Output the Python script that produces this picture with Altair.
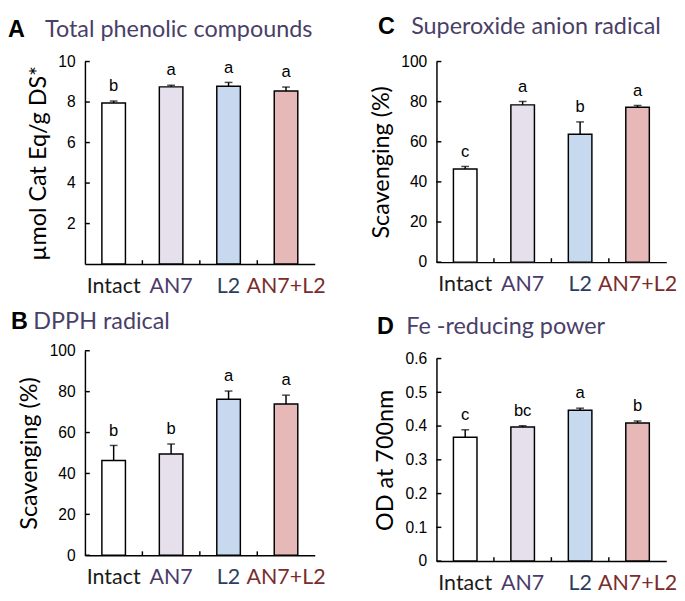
import altair as alt
import pandas as pd

groups = ["Intact", "AN7", "L2", "AN7+L2"]
fills = ["#ffffff", "#e6e0ec", "#c6d9ef", "#e6b8b7"]
label_colors = ["#1a1a1a", "#4b3b6b", "#2b3f5c", "#7b2c2c"]

phenolic_mean = [7.95, 8.75, 8.78, 8.55]
phenolic_err = [0.10, 0.08, 0.19, 0.19]
phenolic_sig = ["b", "a", "a", "a"]
phenolic_ticks = [2, 4, 6, 8, 10]

dpph_mean = [46.3, 49.5, 76.3, 74.0]
dpph_err = [7.4, 4.9, 4.0, 4.3]
dpph_sig = ["b", "b", "a", "a"]
dpph_ticks = [0, 20, 40, 60, 80, 100]

superoxide_mean = [46.4, 78.4, 63.8, 77.2]
superoxide_err = [1.3, 1.7, 6.1, 0.9]
superoxide_sig = ["c", "a", "b", "a"]
superoxide_ticks = [0, 20, 40, 60, 80, 100]

fe_mean = [0.367, 0.397, 0.447, 0.409]
fe_err = [0.022, 0.004, 0.006, 0.006]
fe_sig = ["c", "bc", "a", "b"]
fe_ticks = [0, 0.1, 0.2, 0.3, 0.4, 0.5, 0.6]

TITLE_COLOR = "#4a3f68"
SANS = "Lato"
ARIAL = "Liberation Sans"

label_color_cond = {
    "condition": [
        {"test": f"datum.value === '{g}'", "value": c}
        for g, c in zip(groups[1:], label_colors[1:])
    ],
    "value": label_colors[0],
}


def panel(letter, title, mean, err, sig, ytitle, ymax, ticks, w, h,
          letter_x, title_x, title_y, fmt):
    df = pd.DataFrame({
        "group": groups,
        "mean": mean,
        "top": [m + e for m, e in zip(mean, err)],
        "sig": sig,
    })
    xscale = alt.Scale(domain=groups, paddingInner=0, paddingOuter=0)
    xaxis = alt.Axis(title=None, ticks=False, labelAngle=0,
                     labelFont=SANS, labelFontSize=22,
                     labelPadding=12, domainColor="black",
                     domainWidth=1.5, labelColor=label_color_cond)
    yscale = alt.Scale(domain=[0, ymax], nice=False, zero=True)
    yaxis = alt.Axis(title=ytitle, values=ticks, ticks=False,
                     grid=False, format=fmt, labelOverlap=False,
                     labelFont=ARIAL, labelFontSize=16,
                     labelColor="black", labelPadding=10,
                     domainColor="black", domainWidth=1.5,
                     titleFont=SANS, titleFontSize=24,
                     titleFontWeight="normal", titleColor="black",
                     titlePadding=8)

    def X(**kw):
        return alt.X("group:N", sort=groups, scale=xscale, axis=xaxis, **kw)

    def Y(f):
        return alt.Y(f, scale=yscale, axis=yaxis)

    base = alt.Chart(df)
    bars = base.mark_bar(width=alt.RelativeBandSize(0.41), stroke="black",
                         strokeWidth=1.5).encode(
        x=X(), y=Y("mean:Q"),
        fill=alt.Fill("group:N", scale=alt.Scale(domain=groups, range=fills),
                      legend=None))
    errbar = base.mark_rule(color="black", strokeWidth=1.5).encode(
        x=X(), y=Y("mean:Q"), y2="top:Q")
    cap = base.mark_tick(color="black", thickness=1.5, size=8,
                         orient="horizontal").encode(
        x=X(), y=Y("top:Q"))
    sigtxt = base.mark_text(dy=-15, font=ARIAL, fontSize=17,
                            color="black").encode(
        x=X(), y=Y("top:Q"), text="sig:N")
    tdf = pd.DataFrame({"v": ticks})
    yticks = alt.Chart(tdf).mark_rule(color="black", strokeWidth=1.5).encode(
        y=Y("v:Q"), x=alt.value(0), x2=alt.value(5))
    bdf = pd.DataFrame({"group": groups[:-1]})
    xticks = alt.Chart(bdf).mark_rule(color="black", strokeWidth=1.5).encode(
        x=X(bandPosition=1), y=alt.value(h), y2=alt.value(h - 4))
    one = alt.Data(values=[{"a": 1}])
    lt = alt.Chart(one).mark_text(text=letter, font=ARIAL, fontSize=24,
                                  fontWeight="bold", color="black",
                                  align="left", baseline="top").encode(
        x=alt.value(letter_x), y=alt.value(title_y))
    tt = alt.Chart(one).mark_text(text=title, font=SANS, fontSize=24,
                                  color=TITLE_COLOR, align="left",
                                  baseline="top").encode(
        x=alt.value(title_x), y=alt.value(title_y))
    return alt.layer(bars, errbar, cap, sigtxt, yticks, xticks, lt, tt).properties(
        width=w, height=h)


A = panel("A", "Total phenolic compounds", phenolic_mean, phenolic_err,
          phenolic_sig, "µmol Cat Eq/g DS*", 10, phenolic_ticks, 236, 208,
          -79, -41, -44, "d")
B = panel("B", "DPPH radical", dpph_mean, dpph_err, dpph_sig,
          "Scavenging (%)", 100, dpph_ticks, 236, 210, -76, -53, -41, "d")
C = panel("C", "Superoxide anion radical", superoxide_mean, superoxide_err,
          superoxide_sig, "Scavenging (%)", 100, superoxide_ticks, 236, 206,
          -60, -26, -47, "d")
D = panel("D", "Fe -reducing power", fe_mean, fe_err, fe_sig,
          "OD at 700nm", 0.6, fe_ticks, 236, 208, -61, -31, -44, ".1~f")

col1 = alt.vconcat(A, B, spacing=15)
col2 = alt.vconcat(C, D, spacing=22)
chart = alt.hconcat(col1, col2, spacing=45).properties(
    padding=0
).configure_view(stroke=None)

chart.save("out.html", embed_options={"renderer": "svg", "actions": False})
